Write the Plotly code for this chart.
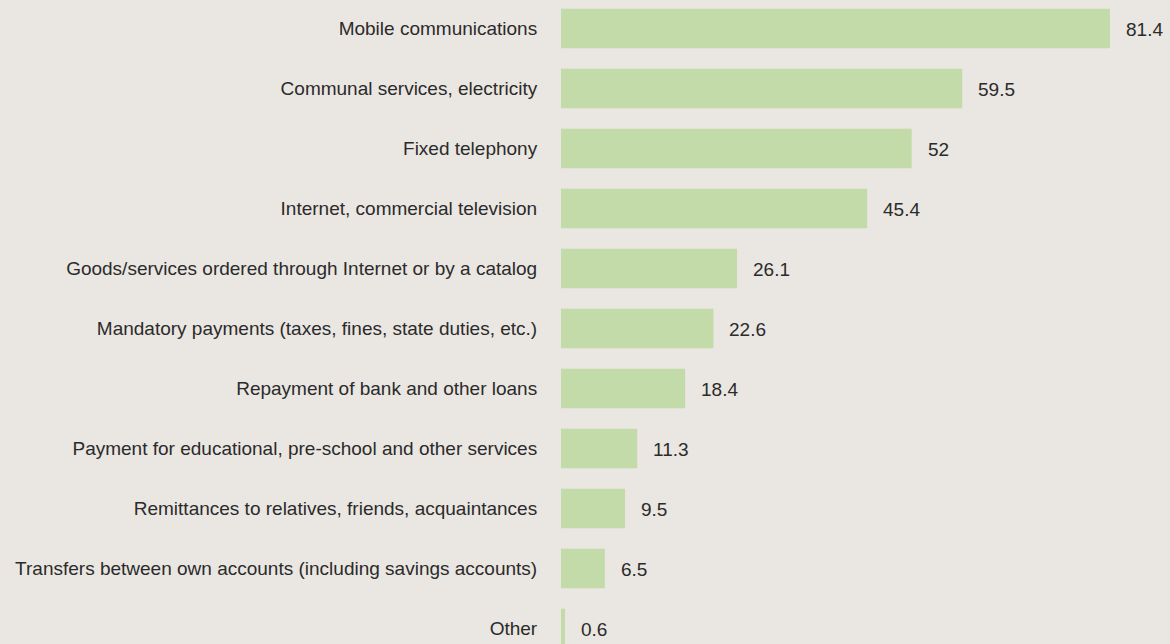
import plotly.graph_objects as go

categories = [
    "Mobile communications",
    "Communal services, electricity",
    "Fixed telephony",
    "Internet, commercial television",
    "Goods/services ordered through Internet or by a catalog",
    "Mandatory payments (taxes, fines, state duties, etc.)",
    "Repayment of bank and other loans",
    "Payment for educational, pre-school and other services",
    "Remittances to relatives, friends, acquaintances",
    "Transfers between own accounts (including savings accounts)",
    "Other",
]
values = [81.4, 59.5, 52, 45.4, 26.1, 22.6, 18.4, 11.3, 9.5, 6.5, 0.6]
value_labels = ["81.4", "59.5", "52", "45.4", "26.1", "22.6", "18.4", "11.3", "9.5", "6.5", "0.6"]

BG = "#EAE6E2"
BAR = "#C3DBA9"
TXT = "#2b2b2b"
FONT = "Liberation Sans, Arial, sans-serif"
FS = 19

fig = go.Figure()
fig.add_trace(go.Bar(
    x=values, y=categories, orientation="h",
    marker=dict(color=BAR, line=dict(width=0)),
    width=0.66, hoverinfo="x+y",
))

for c, v, t in zip(categories, values, value_labels):
    fig.add_annotation(x=v, y=c, text=t, showarrow=False, xanchor="left",
                       xshift=14, yshift=-1,
                       font=dict(family=FONT, size=FS, color=TXT))

fig.update_layout(
    width=1170, height=644,
    margin=dict(l=561, r=0, t=0, b=0),
    paper_bgcolor=BG, plot_bgcolor=BG,
    showlegend=False,
    font=dict(family=FONT, size=FS, color=TXT),
    xaxis=dict(range=[0, 90.3], visible=False, fixedrange=True),
    yaxis=dict(
        type="category", categoryorder="array", categoryarray=categories,
        range=[10.258, -0.475], showgrid=False, zeroline=False, showline=False,
        ticks="outside", ticklen=19, tickcolor="rgba(0,0,0,0)",
        tickfont=dict(family=FONT, size=FS, color=TXT), fixedrange=True,
    ),
)

fig.write_html("out.html", config={"displayModeBar": False},
               post_script="document.body.style.margin='0';document.body.style.background='%s';" % BG)
